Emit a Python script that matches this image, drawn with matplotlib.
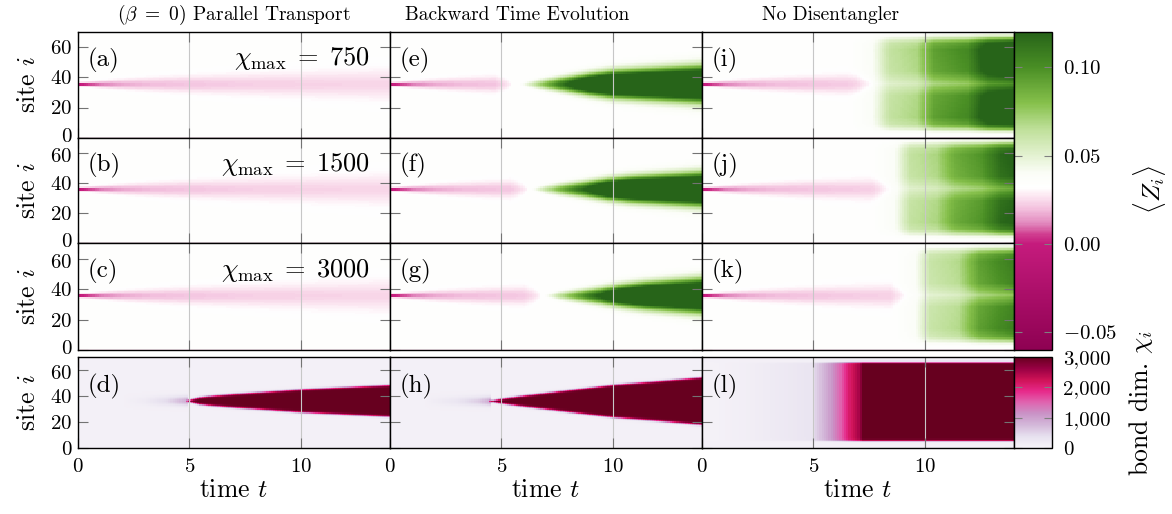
import numpy as np
import matplotlib.pyplot as plt
from matplotlib.colors import LinearSegmentedColormap, Normalize
from matplotlib.cm import ScalarMappable
from matplotlib.transforms import ScaledTranslation

plt.rcParams.update({
    "font.family": "serif",
    "font.serif": ["cmr10"],
    "mathtext.fontset": "cm",
    "axes.formatter.use_mathtext": True,
})

# grid of the simulation (time steps x sites)
T = np.arange(0, 14.0001, 0.1)
S = np.arange(0, 71)
CENTER = 35.5

COL_TITLES = [r"$(\beta\ =\ 0)$ Parallel Transport", "Backward Time Evolution", "No Disentangler"]
CHI_MAX = [750, 1500, 3000]
LABELS = [["(a)", "(b)", "(c)", "(d)"], ["(e)", "(f)", "(g)", "(h)"], ["(i)", "(j)", "(k)", "(l)"]]
X_TICKS = [0, 5, 10]
Y_TICKS = [0, 20, 40, 60]

# <Z_i> colour scale
Z_NODES = [-0.06, 0.0, 0.005, 0.012, 0.02, 0.027, 0.032, 0.04, 0.05, 0.065, 0.08, 0.1, 0.12]
Z_COLORS = ["#8e0152", "#c51b7d", "#cf3b8e", "#e28bbf", "#f3c1de", "#fce6f1", "#ffffff",
            "#fbfdf7", "#e4f2d2", "#bfe09a", "#86c04b", "#4a8f25", "#276419"]
Z_TICKS = [-0.05, 0.0, 0.05, 0.10]
Z_TICKLABELS = [r"$-0.05$", r"$0.00$", r"$0.05$", r"$0.10$"]
CHI_TICKS = [0, 1000, 2000, 3000]
CHI_TICKLABELS = ["0", "1,000", "2,000", "3,000"]

# background and the pink band spreading from the centre site
Z_BG = 0.033
Z_EDGE = 0.028  # slightly pink first site
PINK_T = [0, 0.5, 1, 2, 3, 5, 8, 14]
PINK_AMP = [-0.045, -0.032, -0.024, -0.017, -0.014, -0.012, -0.01, -0.009]
PINK_SIG = [0.7, 0.9, 1.3, 2.0, 2.6, 3.6, 4.8, 6.6]
PINK_END = [[15.0, 15.0, 15.0], [5.5, 6.2, 6.8], [7.7, 8.5, 9.2]]

# green light cone of the backward time evolution (e-g)
CONE_AMP = [0, 0.03, 0.05, 0.09, 0.15, 0.19, 0.21]
CONE_T = [[5.8, 6.5, 7.0, 8.0, 9.0, 10.0, 14.0],
          [6.3, 7.0, 7.6, 8.8, 9.8, 10.8, 14.0],
          [6.9, 7.6, 8.2, 9.4, 10.4, 11.4, 14.0]]
CONE_SIG = [[0.8, 1.8, 2.5, 3.6, 4.5, 5.3, 7.0],
            [0.8, 1.8, 2.5, 3.6, 4.4, 5.0, 6.4],
            [0.8, 1.8, 2.5, 3.6, 4.4, 5.0, 6.4]]

# green blocks without disentangler (i-k)
BLOCK_S = [0, 2, 4, 6, 9, 14, 28, 33, 36, 39, 44, 58, 62, 65, 67, 70]
BLOCK_PROF = [0, 0.03, 0.15, 0.45, 0.85, 1, 0.95, 0.75, 0.6, 0.75, 0.95, 1, 0.9, 0.6, 0.25, 0]
BLOCK_T = [[6.5, 7.6, 8.4, 9.6, 10.4, 11.9, 12.8, 14.0],
           [7.5, 8.6, 9.3, 10.5, 11.3, 12.5, 13.4, 14.0],
           [8.5, 9.5, 10.2, 11.5, 12.4, 13.4, 14.0, 14.0]]
BLOCK_LVL = [[0, 0.006, 0.03, 0.037, 0.06, 0.07, 0.1, 0.11],
             [0, 0.006, 0.03, 0.037, 0.055, 0.065, 0.085, 0.09],
             [0, 0.006, 0.028, 0.035, 0.06, 0.07, 0.075, 0.075]]

# bond dimension chi_i
CHI_BG = 80
CHI_TOP = 3000
CHI_CONE_T = [[4.9, 5.0, 5.5, 6.0, 7.0, 8.0, 10.0, 12.0, 14.0],
              [4.5, 4.6, 5.0, 6.0, 7.0, 8.0, 10.0, 12.0, 14.0]]
CHI_CONE_H = [[0, 0.8, 2.8, 3.8, 5.2, 6.3, 8.8, 10.5, 12.2],
              [0, 0.5, 1.8, 4.2, 6.2, 8.3, 12.5, 15.2, 18.2]]
CHI_CENTER = [36.2, 36.0]
HAZE_T = [[2.0, 3.0, 4.0, 4.9], [1.5, 3.0, 4.0, 4.6]]
HAZE_AMP = [[0, 100, 350, 800], [0, 200, 500, 900]]
NODIS_T = [0, 2, 4.9, 5.0, 5.6, 6.2, 6.6, 7.0, 7.2, 14]
NODIS_CHI = [40, 120, 300, 450, 900, 1500, 2100, 2500, 3000, 3000]
NODIS_SITES = [5.5, 66.0]

W, H = 1172, 514
COL_X = [78, 390, 702, 1014]
ROW_Y = [32, 137.7, 243.3, 350]
ROW4_Y = [357, 448]

TICK_FS = 15
LABEL_FS = 18.5


def z_field(col, row):
    tt, ss = np.meshgrid(T, S)
    z = np.full(tt.shape, Z_BG)
    # pink band
    end = PINK_END[col][row]
    fade = np.sqrt(np.clip((end - T) / 0.8, 0, 1))
    amp = np.interp(T, PINK_T, PINK_AMP) * fade
    sig = np.interp(T, PINK_T, PINK_SIG) * np.maximum(fade, 0.05)
    z += amp[None, :] * np.exp(-0.5 * ((ss - CENTER) / sig[None, :]) ** 2)
    if col == 1:
        a = np.interp(T, CONE_T[row], CONE_AMP, left=0)
        s = np.interp(T, CONE_T[row], CONE_SIG[row])
        z += a[None, :] * np.exp(-0.5 * ((ss - CENTER) / s[None, :]) ** 2)
    if col == 2:
        lvl = np.interp(T, BLOCK_T[row], BLOCK_LVL[row], left=0)
        prof = np.interp(S, BLOCK_S, BLOCK_PROF)
        z += prof[:, None] * lvl[None, :]
    z[0, :] = np.minimum(z[0, :], Z_EDGE)
    return z


def chi_field(col):
    tt, ss = np.meshgrid(T, S)
    if col < 2:
        c = CHI_CENTER[col]
        h = np.interp(T, CHI_CONE_T[col], CHI_CONE_H[col], left=0)
        inside = 1 / (1 + np.exp(-(h[None, :] - np.abs(ss - c)) / 0.45))
        inside[:, T < CHI_CONE_T[col][0]] = 0
        haze = np.interp(T, HAZE_T[col], HAZE_AMP[col], left=0, right=0)
        chi = CHI_BG + haze[None, :] * np.exp(-0.5 * ((ss - c) / 2.5) ** 2)
        chi = chi + (CHI_TOP - chi) * inside
    else:
        lvl = np.interp(T, NODIS_T, NODIS_CHI)
        lo, hi = NODIS_SITES
        box = 1 / (1 + np.exp(-(ss - lo) / 0.4)) / (1 + np.exp((ss - hi) / 0.4))
        chi = CHI_BG + (lvl[None, :] - CHI_BG) * box
    return chi


def add_axes_px(x0, y0, x1, y1):
    return fig.add_axes([x0 / W, 1 - y1 / H, (x1 - x0) / W, (y1 - y0) / H])


def style(ax, col, row):
    ax.set_xlim(0, 14)
    ax.set_ylim(0, 70)
    ax.set_xticks(X_TICKS)
    ax.set_yticks(Y_TICKS)
    ax.tick_params(direction="in", top=True, right=True, color="0.45",
                   length=7, width=0.8, labelsize=TICK_FS, pad=4)
    ax.tick_params(axis="x", pad=7)
    ax.grid(axis="x", color="0.78", lw=0.8)
    if row == 3:
        ax.set_xticklabels([r"$%d$" % v for v in X_TICKS])
    else:
        ax.set_xticklabels([])
    if col > 0:
        ax.set_yticklabels([])
    else:
        labs = ax.set_yticklabels([r"$%d$" % v for v in Y_TICKS])
        # keep the stacked "0" and "60" labels of adjacent rows apart
        if row < 3:
            labs[0].set_transform(labs[0].get_transform() +
                                  ScaledTranslation(0, 0.03, fig.dpi_scale_trans))
        if row > 0:
            labs[-1].set_transform(labs[-1].get_transform() +
                                   ScaledTranslation(0, -0.02, fig.dpi_scale_trans))
    for sp in ax.spines.values():
        sp.set_linewidth(1.0)


fig = plt.figure(figsize=(W / 100, H / 100), dpi=100)

pos = [(v - Z_NODES[0]) / (Z_NODES[-1] - Z_NODES[0]) for v in Z_NODES]
zcmap = LinearSegmentedColormap.from_list("zmap", list(zip(pos, Z_COLORS)))
znorm = Normalize(Z_NODES[0], Z_NODES[-1])
ccmap = plt.get_cmap("PuRd")
cnorm = Normalize(0, CHI_TOP)
ext = [T[0] - 0.05, T[-1] + 0.05, S[0] - 0.5, S[-1] + 0.5]

for col in range(3):
    x0, x1 = COL_X[col], COL_X[col + 1]
    for row in range(3):
        ax = add_axes_px(x0, ROW_Y[row], x1, ROW_Y[row + 1])
        ax.imshow(z_field(col, row), origin="lower", extent=ext, aspect="auto",
                  cmap=zcmap, norm=znorm, interpolation="nearest")
        style(ax, col, row)
        ax.text(10 / 312, 1 - 28 / 105.7, LABELS[col][row], transform=ax.transAxes,
                fontsize=18, va="center", ha="left")
        if col == 0:
            ax.text(1 - 20 / 312, 1 - 27 / 105.7,
                    r"$\chi_{\max}\;=\;%d$" % CHI_MAX[row], transform=ax.transAxes,
                    fontsize=19, va="center", ha="right")
    ax = add_axes_px(x0, ROW4_Y[0], x1, ROW4_Y[1])
    ax.imshow(chi_field(col), origin="lower", extent=ext, aspect="auto",
              cmap=ccmap, norm=cnorm, interpolation="nearest")
    style(ax, col, 3)
    ax.text(10 / 312, 1 - 29 / 91, LABELS[col][3], transform=ax.transAxes,
            fontsize=18, va="center", ha="left")

# colour bars
cax = add_axes_px(1014, 32, 1052, 350)
cb = fig.colorbar(ScalarMappable(znorm, zcmap), cax=cax)
cb.set_ticks(Z_TICKS)
cb.set_ticklabels(Z_TICKLABELS)
cax.tick_params(direction="in", left=True, right=True, color="0.5", length=6,
                width=0.8, labelsize=TICK_FS, pad=8)
cb.outline.set_linewidth(1.0)

cax2 = add_axes_px(1014, 357, 1052, 448)
cb2 = fig.colorbar(ScalarMappable(cnorm, ccmap), cax=cax2)
cb2.set_ticks(CHI_TICKS)
cb2.set_ticklabels(CHI_TICKLABELS)
cax2.tick_params(direction="in", left=True, right=True, color="0.5", length=6,
                 width=0.8, labelsize=TICK_FS, pad=8)
cb2.outline.set_linewidth(1.0)

fig.text(1150 / W, 1 - 189 / H, r"$\langle Z_i\rangle$", rotation=90,
         ha="center", va="center", fontsize=LABEL_FS)
fig.text(1141 / W, 1 - 403 / H, r"bond dim. $\chi_i$", rotation=90,
         ha="center", va="center", fontsize=LABEL_FS)

# titles and axis labels
for cx, title in zip([234, 517, 831], COL_TITLES):
    fig.text(cx / W, 1 - 15 / H, title, ha="center", va="center", fontsize=14)
for cx in [234, 546, 858]:
    fig.text(cx / W, 1 - 490 / H, r"time $t$", ha="center", va="center", fontsize=LABEL_FS)
for cy in [85, 190.5, 296.5, 402.5]:
    fig.text(28 / W, 1 - cy / H, r"site $i$", rotation=90, ha="center",
             va="center", fontsize=LABEL_FS)

fig.savefig("out.png", dpi=100)
